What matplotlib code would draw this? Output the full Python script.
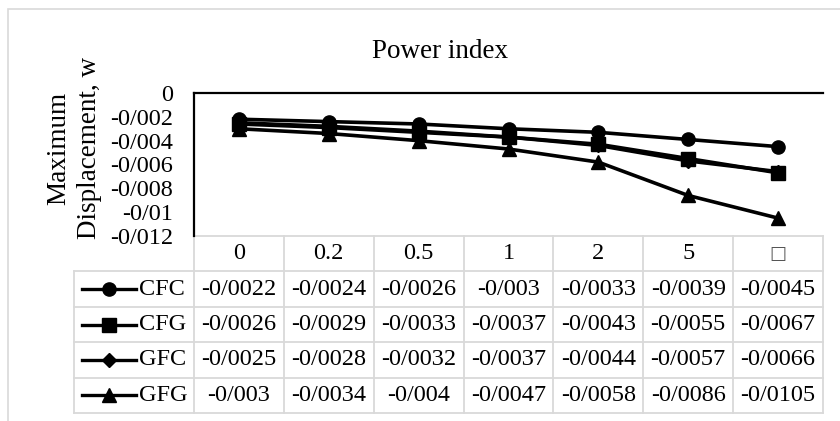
import matplotlib
matplotlib.use("Agg")
import matplotlib.pyplot as plt
import matplotlib.transforms as mtransforms
from matplotlib.lines import Line2D
from matplotlib.patches import Rectangle

# data
categories = ["0", "0.2", "0.5", "1", "2", "5", "\u25A1"]
series_names = ["CFC", "CFG", "GFC", "GFG"]
cfc = [-0.0022, -0.0024, -0.0026, -0.003, -0.0033, -0.0039, -0.0045]
cfg = [-0.0026, -0.0029, -0.0033, -0.0037, -0.0043, -0.0055, -0.0067]
gfc = [-0.0025, -0.0028, -0.0032, -0.0037, -0.0044, -0.0057, -0.0066]
gfg = [-0.003, -0.0034, -0.004, -0.0047, -0.0058, -0.0086, -0.0105]
y_ticks = [0, -0.002, -0.004, -0.006, -0.008, -0.01, -0.012]

series = [cfc, cfg, gfc, gfg]
markers = ["o", "s", "D", "^"]
msizes = [9.5, 9.5, 7, 9.5]
GRID = "#d9d9d9"
FS = 17.5


def fmt(v):
    # the source uses "/" as decimal separator
    return f"{v:g}".replace(".", "/")


plt.rcParams["font.family"] = ["Liberation Serif", "DejaVu Sans"]

fig = plt.figure(figsize=(8.4, 4.21), dpi=100)
ax = fig.add_axes([194 / 840, 1 - 236 / 421, 629 / 840, 143 / 421])

x = list(range(len(categories)))
for vals, m, ms in zip(series, markers, msizes):
    ax.plot(x, vals, color="black", lw=2.6, marker=m, ms=ms, clip_on=False)

ax.set_xlim(-0.5, len(categories) - 0.5)
ax.set_ylim(-0.012, 0)
ax.set_yticks(y_ticks)
ax.set_yticklabels([fmt(v) for v in y_ticks], fontsize=FS)
ax.tick_params(axis="y", length=0, pad=15)
ax.set_xticks([])
for s in ("right", "bottom"):
    ax.spines[s].set_visible(False)
for s in ("left", "top"):
    ax.spines[s].set_linewidth(1.6)
    ax.spines[s].set_color("black")

# data table under the plot (x in data units, y in axes units)
trans = mtransforms.blended_transform_factory(ax.transData, ax.transAxes)
rh = 35.4 / 143
n = len(series)
left_x = -0.5
leg_x = -1.835
kw = dict(color=GRID, lw=1.3, transform=trans, clip_on=False)

for k in range(n + 2):
    x0 = left_x if k == 0 else leg_x
    ax.add_line(Line2D([x0, len(categories) - 0.5], [-k * rh, -k * rh], **kw))
for i in range(len(categories) + 1):
    ax.add_line(Line2D([i - 0.5, i - 0.5], [0, -(n + 1) * rh], **kw))
ax.add_line(Line2D([leg_x, leg_x], [-rh, -(n + 1) * rh], **kw))

for i, c in enumerate(categories):
    if c == "\u25A1":
        ax.text(i, -0.5 * rh, c, transform=trans, ha="center", va="center",
                fontsize=13, family=["DejaVu Sans"], color="#555555")
    else:
        ax.text(i, -0.5 * rh, c, transform=trans, ha="center", va="center",
                fontsize=FS)

for r, (name, vals, m, ms) in enumerate(zip(series_names, series, markers, msizes)):
    yc = -(r + 1.5) * rh
    ax.add_line(Line2D([-1.745, -1.145], [yc, yc], color="black", lw=2.4,
                       transform=trans, clip_on=False))
    ax.add_line(Line2D([-1.445], [yc], color="black", marker=m, ms=ms,
                       transform=trans, clip_on=False))
    ax.text(-1.112, yc, name, transform=trans, ha="left", va="center",
            fontsize=FS)
    for i, v in enumerate(vals):
        ax.text(i, yc, fmt(v), transform=trans, ha="center", va="center",
                fontsize=FS)

fig.text(440 / 840, 1 - 51 / 421, "Power index", ha="center", va="center",
         fontsize=19.5)
fig.text(74 / 840, 1 - 148 / 421, "Maximum\nDisplacement, w", ha="center",
         va="center", rotation=90, fontsize=19.5, linespacing=1.3)

# light chart-area frame (only top and left edges are inside the picture)
fig.add_artist(Rectangle((8 / 840, -0.2), 1.2, 1.2 - 9 / 421,
                         transform=fig.transFigure, fill=False,
                         edgecolor=GRID, lw=1.2))

fig.savefig("out.png", dpi=100)
